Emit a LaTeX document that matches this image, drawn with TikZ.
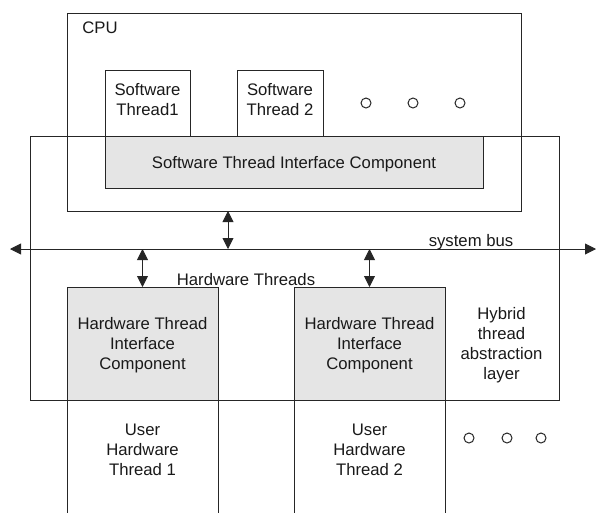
\documentclass[tikz,border=0pt]{standalone}
\usepackage{fontspec}
\setmainfont{Liberation Sans}
\usetikzlibrary{arrows.meta}
\begin{document}
\begin{tikzpicture}[x=1pt,y=-1pt,
  every node/.style={font=\fontsize{16.7}{20}\selectfont, text=black!90, align=center, inner sep=0pt, outer sep=0pt},
  box/.style={draw=black!85, line width=0.9pt, rectangle},
  graybox/.style={box, fill=black!10},
  tx/.style={yshift=-2pt},
  dot/.style={draw=black!85, line width=1pt, circle, minimum size=10pt},
  arr/.style={line width=0.9pt, draw=black!85, {Triangle[length=11pt,width=11pt]}-{Triangle[length=11pt,width=11pt]}},
]
\useasboundingbox (0,0) rectangle (596,512);
\clip (0,0) rectangle (596,512);
% user hardware threads (open at bottom)
\node[box, minimum width=151pt, minimum height=140pt] (uhw1) at (142.5,448) {};
\node[box, minimum width=151pt, minimum height=140pt] (uhw2) at (369.5,448) {};
% CPU
\node[box, minimum width=454pt, minimum height=198pt] (cpu) at (294,112) {};
\node[tx] (cpul) at (100,26) {CPU};
% hybrid thread abstraction layer
\node[box, minimum width=529pt, minimum height=264pt] (htal) at (294.5,268) {};
% software threads
\node[box, fill=white, minimum width=85pt, minimum height=66pt] (sw1) at (147.5,103) {};
\node[box, fill=white, minimum width=86pt, minimum height=66pt] (sw2) at (280,103) {};
\node[tx] (sw1t) at (147.5,98) {Software\\Thread1};
\node[tx] (sw2t) at (280,98) {Software\\Thread 2};
\node[dot] (c1) at (366,103) {};
\node[dot] (c2) at (413,103) {};
\node[dot] (c3) at (460,103) {};
% software thread interface component
\node[graybox, minimum width=378pt, minimum height=52pt] (stic) at (294,162) {};
\node[tx] (stict) at (294,162) {Software Thread Interface Component};
% hardware thread interface components
\node[graybox, minimum width=151pt, minimum height=113pt] (hw1) at (142.5,343.5) {};
\node[graybox, minimum width=151pt, minimum height=113pt] (hw2) at (369.5,343.5) {};
\node[tx] (hw1t) at (142.5,343.5) {Hardware Thread\\Interface\\Component};
\node[tx] (hw2t) at (369.5,343.5) {Hardware Thread\\Interface\\Component};
\node[tx] (uhw1t) at (142.5,448) {User\\Hardware\\Thread 1};
\node[tx] (uhw2t) at (369.5,448) {User\\Hardware\\Thread 2};
\node[tx] (hyb) at (501.5,343) {Hybrid\\thread\\abstraction\\layer};
\node[dot] (d1) at (469,438) {};
\node[dot] (d2) at (507,438) {};
\node[dot] (d3) at (541,438) {};
% system bus
\coordinate (busL) at (10,249);
\coordinate (busR) at (596,249);
\coordinate (bcpu) at (228,249);
\draw[arr] (busL) -- (busR);
\node[tx] (busl) at (471,240) {system bus};
\node[tx] (hwt) at (246,278) {Hardware Threads};
\draw[arr] (cpu.south -| bcpu) -- (bcpu);
\draw[arr] (hw1.north |- busL) -- (hw1.north);
\draw[arr] (hw2.north |- busL) -- (hw2.north);
\end{tikzpicture}
\end{document}
